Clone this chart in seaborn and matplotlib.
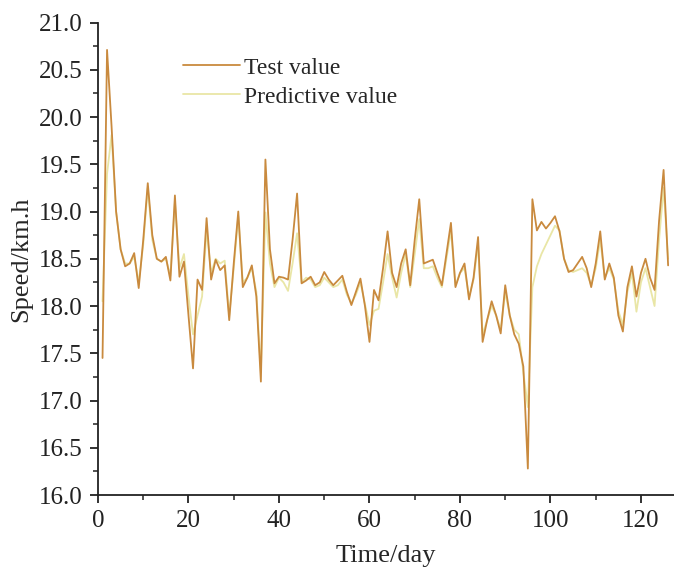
import numpy as np
import pandas as pd
import matplotlib
matplotlib.use("Agg")
import matplotlib.pyplot as plt
from matplotlib.ticker import MultipleLocator, FormatStrFormatter
from matplotlib.lines import Line2D
import seaborn as sns

# Daily speed series, days 1..126
days = list(range(1, 127))

test_value = [
    17.45, 20.71, 19.90, 19.00, 18.60, 18.42, 18.45, 18.56, 18.19, 18.70,  # 1-10
    19.30, 18.75, 18.50, 18.47, 18.52, 18.27, 19.17, 18.31, 18.47, 17.90,  # 11-20
    17.34, 18.28, 18.17, 18.93, 18.28, 18.49, 18.38, 18.43, 17.85, 18.45,  # 21-30
    19.00, 18.20, 18.30, 18.43, 18.10, 17.20, 19.55, 18.60, 18.24, 18.31,  # 31-40
    18.30, 18.28, 18.70, 19.19, 18.24, 18.27, 18.31, 18.22, 18.25, 18.36,  # 41-50
    18.28, 18.22, 18.27, 18.32, 18.15, 18.01, 18.15, 18.29, 18.00, 17.62,  # 51-60
    18.17, 18.06, 18.40, 18.79, 18.35, 18.20, 18.45, 18.60, 18.22, 18.70,  # 61-70
    19.13, 18.45, 18.47, 18.49, 18.35, 18.22, 18.55, 18.88, 18.20, 18.35,  # 71-80
    18.45, 18.07, 18.30, 18.73, 17.62, 17.85, 18.05, 17.90, 17.71, 18.22,  # 81-90
    17.90, 17.70, 17.60, 17.36, 16.28, 19.13, 18.80, 18.89, 18.82, 18.88,  # 91-100
    18.95, 18.79, 18.50, 18.36, 18.38, 18.45, 18.52, 18.40, 18.20, 18.45,  # 101-110
    18.79, 18.28, 18.45, 18.30, 17.90, 17.73, 18.20, 18.42, 18.10, 18.35,  # 111-120
    18.50, 18.30, 18.17, 18.90, 19.44, 18.43,                              # 121-126
]

predictive_value = [
    18.05, 19.40, 19.81, 19.00, 18.60, 18.45, 18.45, 18.52, 18.25, 18.65,  # 1-10
    19.25, 18.70, 18.50, 18.47, 18.50, 18.32, 19.10, 18.40, 18.55, 18.10,  # 11-20
    17.70, 17.90, 18.10, 18.80, 18.35, 18.50, 18.45, 18.48, 17.90, 18.40,  # 21-30
    18.95, 18.25, 18.30, 18.40, 18.15, 17.30, 18.99, 18.45, 18.20, 18.30,  # 31-40
    18.25, 18.16, 18.45, 18.77, 18.25, 18.30, 18.28, 18.20, 18.22, 18.30,  # 41-50
    18.25, 18.20, 18.22, 18.28, 18.12, 18.03, 18.12, 18.25, 18.02, 17.80,  # 51-60
    17.95, 17.97, 18.25, 18.55, 18.30, 18.09, 18.35, 18.55, 18.20, 18.55,  # 61-70
    18.92, 18.40, 18.40, 18.42, 18.30, 18.20, 18.50, 18.80, 18.22, 18.35,  # 71-80
    18.40, 18.10, 18.28, 18.65, 17.70, 17.85, 18.00, 17.90, 17.75, 18.15,  # 81-90
    17.90, 17.75, 17.70, 17.30, 16.93, 18.20, 18.42, 18.55, 18.65, 18.75,  # 91-100
    18.85, 18.80, 18.50, 18.38, 18.36, 18.38, 18.40, 18.35, 18.22, 18.40,  # 101-110
    18.70, 18.30, 18.40, 18.28, 17.95, 17.80, 18.15, 18.35, 17.94, 18.25,  # 111-120
    18.40, 18.20, 18.00, 18.70, 19.25, 18.50,                              # 121-126
]

series_names = ["Test value", "Predictive value"]
series_colors = ["#C98A3E", "#E9E6A6"]

df = pd.DataFrame({
    "day": days * 2,
    "speed": test_value + predictive_value,
    "series": [series_names[0]] * len(days) + [series_names[1]] * len(days),
})

sns.set_style("ticks")
plt.rcParams["font.family"] = ["Liberation Serif", "DejaVu Serif"]

fig = plt.figure(figsize=(6.74, 5.73), dpi=100)
ax = fig.add_axes([0.1454, 0.1361, 0.8546, 0.8246])

# predictive curve drawn first so the test curve sits on top
sns.lineplot(
    data=df, x="day", y="speed", hue="series", hue_order=series_names[::-1],
    palette=dict(zip(series_names, series_colors)), linewidth=1.3, ax=ax,
    legend=False,
)
for line in ax.get_lines():
    line.set_solid_joinstyle("round")

ax.set_xlim(0, 127.3)
ax.set_ylim(16.0, 21.0)
ax.xaxis.set_major_locator(MultipleLocator(20))
ax.xaxis.set_minor_locator(MultipleLocator(10))
ax.yaxis.set_major_locator(MultipleLocator(0.5))
ax.yaxis.set_minor_locator(MultipleLocator(0.25))
ax.yaxis.set_major_formatter(FormatStrFormatter("%.1f"))

for side in ["top", "right"]:
    ax.spines[side].set_visible(False)
for side in ["left", "bottom"]:
    ax.spines[side].set_linewidth(1.3)
    ax.spines[side].set_color("#222222")

ax.tick_params(which="major", direction="out", length=6, width=1.3,
               labelsize=18, colors="#222222", pad=5)
ax.tick_params(which="minor", direction="out", length=3.5, width=1.1,
               colors="#222222")

ax.set_xlabel("Time/day", fontsize=19, labelpad=9)
ax.set_ylabel("Speed/km.h", fontsize=19, labelpad=5)

handles = [Line2D([0], [0], color=c, lw=1.3) for c in series_colors]
ax.legend(handles, series_names, loc="upper left",
          bbox_to_anchor=(0.131, 0.947), frameon=False, fontsize=17,
          handlelength=2.4, handletextpad=0.2, labelspacing=0.32,
          borderaxespad=0)

fig.savefig("out.png", dpi=100)
